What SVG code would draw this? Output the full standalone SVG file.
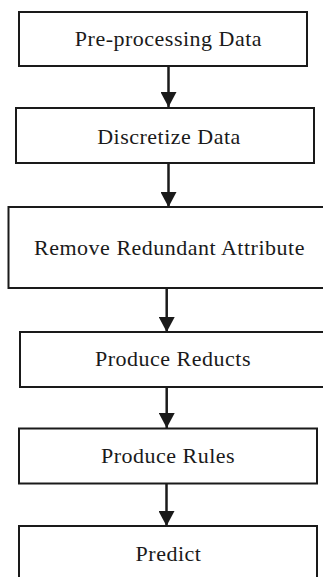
<svg xmlns="http://www.w3.org/2000/svg" width="323" height="577" viewBox="0 0 323 577">
<defs>
<style>
.box{fill:#fff;stroke:#1a1a1a;stroke-width:2}
.lbl{font-family:"Liberation Serif","Times New Roman",serif;font-size:22px;letter-spacing:0.5px;fill:#1a1a1a;text-anchor:middle}
.edge{stroke:#1a1a1a;stroke-width:2.5;fill:none}
</style>
<marker id="ah" markerUnits="userSpaceOnUse" markerWidth="16" markerHeight="16" refX="15" refY="8" orient="auto">
<path d="M0,0 L15,8 L0,16 Z" fill="#1a1a1a"/>
</marker>
</defs>
<rect width="323" height="577" fill="#fff"/>
<g id="connectors">
<line class="edge" x1="168.5" y1="66" x2="168.5" y2="107" marker-end="url(#ah)"/>
<line class="edge" x1="168.5" y1="163" x2="168.5" y2="207" marker-end="url(#ah)"/>
<line class="edge" x1="166.7" y1="288" x2="166.7" y2="332" marker-end="url(#ah)"/>
<line class="edge" x1="166.7" y1="387" x2="166.7" y2="428" marker-end="url(#ah)"/>
<line class="edge" x1="166.5" y1="483" x2="166.5" y2="526" marker-end="url(#ah)"/>
</g>
<g id="n1"><rect class="box" x="19" y="12" width="288" height="54"/><text class="lbl" x="168.5" y="45.5">Pre-processing Data</text></g>
<g id="n2"><rect class="box" x="16" y="108" width="298" height="55"/><text class="lbl" x="169" y="144">Discretize Data</text></g>
<g id="n3"><rect class="box" x="8.5" y="207" width="322" height="81"/><text class="lbl" x="169.5" y="255">Remove Redundant Attribute</text></g>
<g id="n4"><rect class="box" x="20" y="332" width="312" height="55"/><text class="lbl" x="173" y="366">Produce Reducts</text></g>
<g id="n5"><rect class="box" x="19" y="428.5" width="298" height="55"/><text class="lbl" x="168" y="463">Produce Rules</text></g>
<g id="n6"><rect class="box" x="19" y="526" width="298" height="60"/><text class="lbl" x="168.5" y="561">Predict</text></g>
</svg>
